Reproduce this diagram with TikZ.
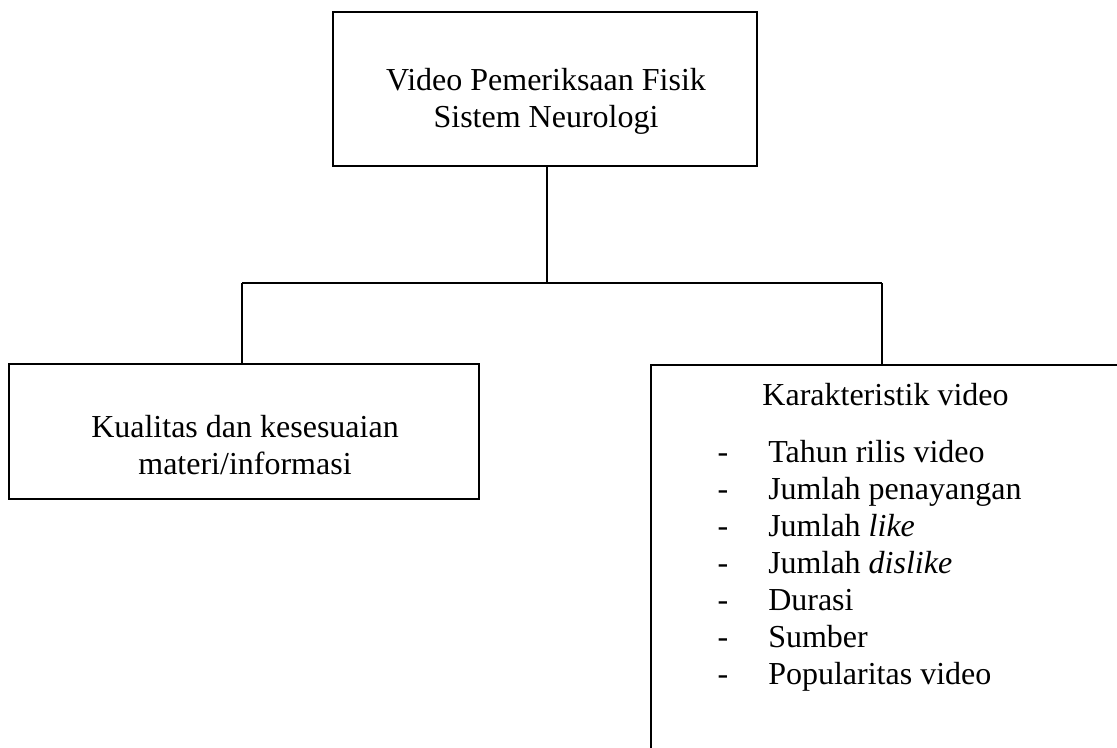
\documentclass[tikz,border=0pt]{standalone}
\usepackage{fontspec}
\setmainfont{Liberation Serif}
\tikzset{
  box/.style={draw=black, line width=1.2pt, rectangle, inner sep=0pt},
  txt/.style={inner sep=0pt, anchor=base, font=\fontsize{24}{29}\selectfont},
  conn/.style={draw=black, line width=0.8pt},
}
\begin{document}
\begin{tikzpicture}[x=0.75pt,y=-0.75pt]
\clip (0,0) rectangle (1117,747);
\useasboundingbox (0,0) rectangle (1117,747);
% boxes
\node[box, minimum width=318pt, minimum height=115.5pt] (top) at (545,89) {};
\node[box, minimum width=352.5pt, minimum height=101.25pt] (left) at (244,431.5) {};
\node[box, minimum width=359.25pt, minimum height=296.25pt] (right) at (890.5,562.5) {};
% texts
\node[txt] (t1) at (546,90) {Video Pemeriksaan Fisik};
\node[txt] (t2) at (546,127) {Sistem Neurologi};
\node[txt] (l1) at (245,437) {Kualitas dan kesesuaian};
\node[txt] (l2) at (245,474) {materi/informasi};
\node[txt] (r0) at (885.5,405) {Karakteristik video};
\foreach \t [count=\i from 0] in {Tahun rilis video, Jumlah penayangan, {Jumlah \textit{like}}, {Jumlah \textit{dislike}}, Durasi, Sumber, Popularitas video}{
  \node[txt] (d\i) at (723,462+37*\i) {-};
  \node[txt, anchor=base west] (i\i) at (768,462+37*\i) {\t};
}
% connectors
\coordinate (jM) at (547,283);
\coordinate (jL) at (242,283);
\coordinate (jR) at (882,283);
\draw[conn] (jM |- top.south) -- (jM);
\draw[conn] (jL) -- (jR);
\draw[conn] (jL) -- (jL |- left.north);
\draw[conn] (jR) -- (jR |- right.north);
\end{tikzpicture}
\end{document}
